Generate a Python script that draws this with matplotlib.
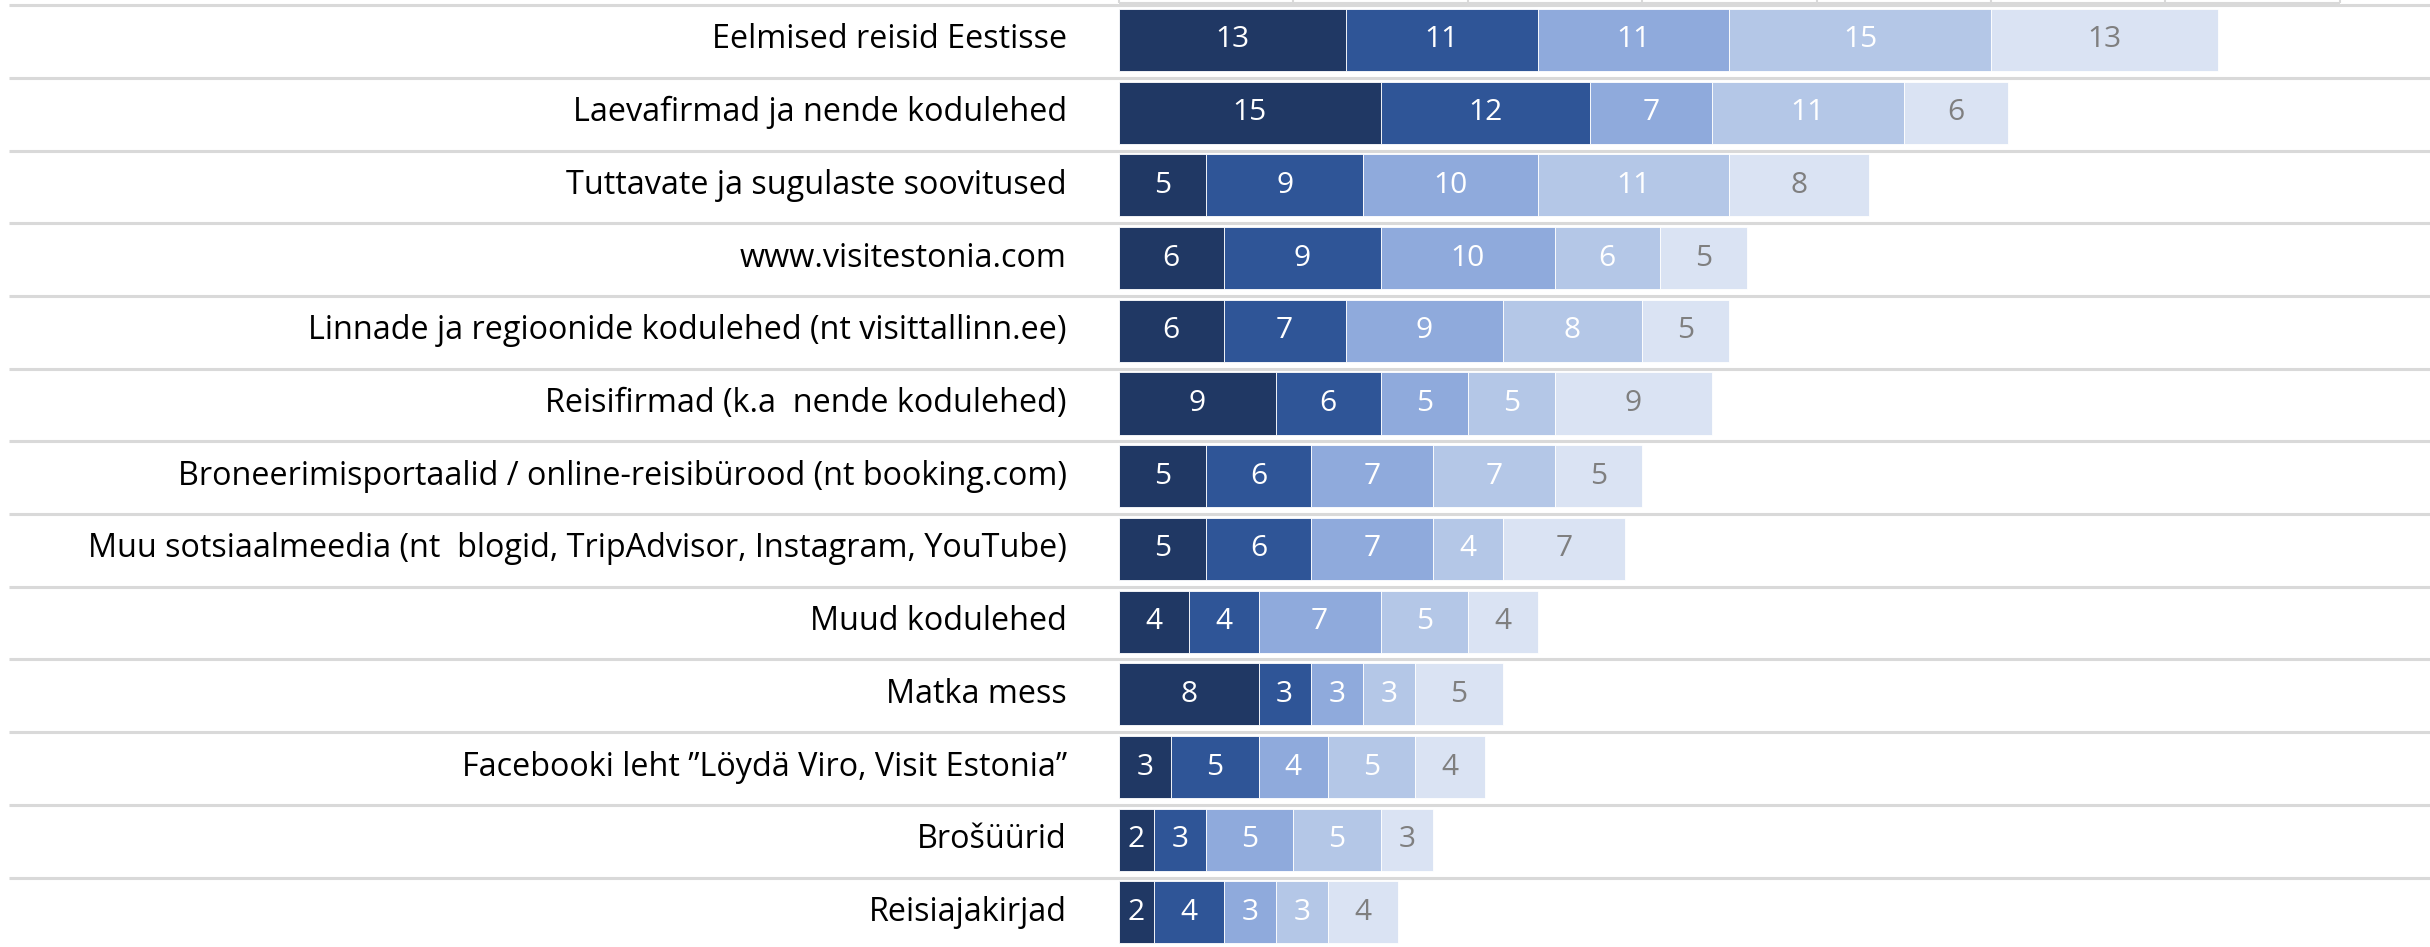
import numpy as np
import matplotlib
matplotlib.use("Agg")
import matplotlib.pyplot as plt

plt.rcParams['font.family'] = ['Open Sans', 'DejaVu Sans']

# categories, top to bottom
categories = [
    "Eelmised reisid Eestisse",
    "Laevafirmad ja nende kodulehed",
    "Tuttavate ja sugulaste soovitused",
    "www.visitestonia.com",
    "Linnade ja regioonide kodulehed (nt visittallinn.ee)",
    "Reisifirmad (k.a  nende kodulehed)",
    "Broneerimisportaalid / online-reisibürood (nt booking.com)",
    "Muu sotsiaalmeedia (nt  blogid, TripAdvisor, Instagram, YouTube)",
    "Muud kodulehed",
    "Matka mess",
    "Facebooki leht \u201dLöydä Viro, Visit Estonia\u201d",
    "Brošüürid",
    "Reisiajakirjad",
]

# the five stacked series (dark -> light)
s1 = [13, 15, 5, 6, 6, 9, 5, 5, 4, 8, 3, 2, 2]
s2 = [11, 12, 9, 9, 7, 6, 6, 6, 4, 3, 5, 3, 4]
s3 = [11, 7, 10, 10, 9, 5, 7, 7, 7, 3, 4, 5, 3]
s4 = [15, 11, 11, 6, 8, 5, 7, 4, 5, 3, 5, 5, 3]
s5 = [13, 6, 8, 5, 5, 9, 5, 7, 4, 5, 4, 3, 4]
series = [s1, s2, s3, s4, s5]

colors = ['#203864', '#2f5597', '#8faadc', '#b4c7e7', '#dae3f3']
txt_colors = ['white', 'white', 'white', 'white', '#7f7f7f']
grid_ticks = [0, 10, 20, 30, 40, 50, 60, 70]

fig = plt.figure(figsize=(24.3, 9.47), dpi=100)
ax = fig.add_axes([0, 0, 1, 1])
ax.axis('off')

# x in data units (0 at the bar base), y in row units
px_per_unit = 17.44
x0_px = 1119
ax.set_xlim(-x0_px / px_per_unit, (2430 - x0_px) / px_per_unit)
row_px = 72.7
ax.set_ylim((947 - 40) / row_px, -40 / row_px)

y = np.arange(len(categories))
left = np.zeros(len(categories))
for vals, c, tc in zip(series, colors, txt_colors):
    vals = np.array(vals)
    ax.barh(y, vals, left=left, height=0.853, color=c, edgecolor='white', linewidth=0.6, zorder=2)
    for yi, l, v in zip(y, left, vals):
        ax.text(l + v / 2, yi, str(v), ha='center', va='center', color=tc, fontsize=21.5, zorder=3)
    left = left + vals

# category labels
for yi, cat in zip(y, categories):
    ax.text(-3.0, yi, cat, ha='right', va='center', fontsize=23.3, color='black')

# row separators
sep_y = np.arange(len(categories)) - 0.48
ax.hlines(sep_y, -x0_px / px_per_unit + 0.5, 80, color='#d9d9d9', linewidth=2.2, zorder=1)

# remains of the chart above: gridlines and frame edge
top = -40 / row_px
edge = (3 - 40) / row_px
ax.vlines(grid_ticks, top, edge, color='#d9d9d9', linewidth=1.5)
ax.hlines(edge, grid_ticks[0], grid_ticks[-1], color='#d9d9d9', linewidth=1.5)

fig.savefig('out.png', dpi=100)
